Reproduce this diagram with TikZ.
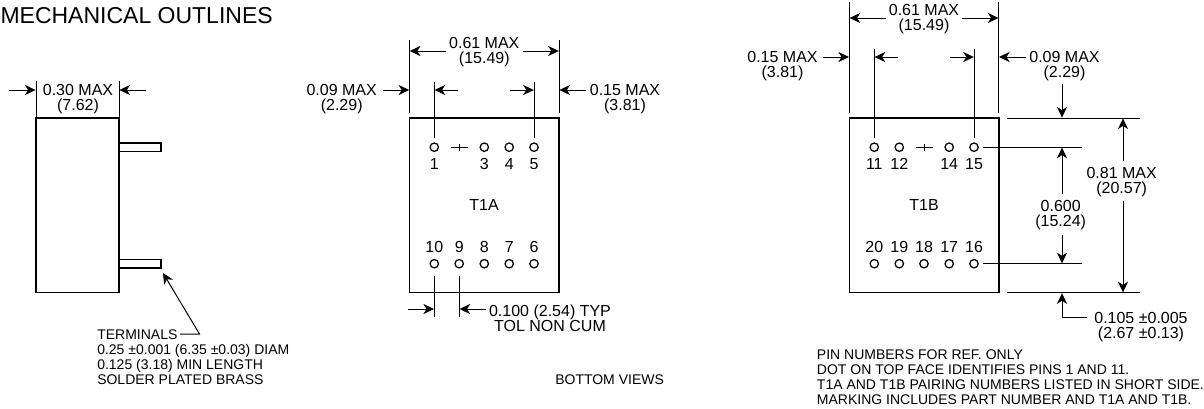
\documentclass[tikz,border=0pt]{standalone}
\usepackage{fontspec}
\setmainfont{Liberation Sans}
\usetikzlibrary{arrows.meta,positioning}

\begin{document}
\begin{tikzpicture}[
	x=0.75pt, y=-0.75pt,
	body/.style={rectangle, draw=black, line width=1.15pt, minimum width=112.1pt, minimum height=131pt, inner sep=0pt},
	terminal/.style={rectangle, draw=black, line width=1.15pt, minimum width=31.5pt, minimum height=6.4pt, inner sep=0pt},
	pin/.style={circle, draw=black, line width=0.95pt, minimum size=6.3pt, inner sep=0pt},
	pinnum/.style={inner sep=0pt, yshift=-0.7pt, font=\fontsize{12}{14}\selectfont},
	dimtext/.style={align=center, inner sep=0pt, yshift=-1.1pt, font=\fontsize{12}{11.25}\selectfont},
	notetext/.style={align=left, anchor=west, inner sep=0pt, yshift=-0.75pt, font=\fontsize{10.5}{11.25}\selectfont},
	ext/.style={line width=0.75pt},
	dim/.style={line width=0.75pt, -{Stealth[length=8pt, width=7.6pt, inset=2.4pt]}}
	]
	\useasboundingbox (0,0) rectangle (1204,408);
	\node[anchor=east, inner sep=0pt, font=\fontsize{17.25}{20}\selectfont] (title) at (273,16) {MECHANICAL OUTLINES};
	% bodies
	\node[body, minimum width=62.25pt] (side) at (77.5,205.3) {};
	\node[terminal] (termA) at (140,147.2) {};
	\node[terminal] (termB) at (140,263.8) {};
	\node[body] (bodyA) at (484.3,205.3) {};
	\node[body] (bodyB) at (924,205.3) {};
	\node[pinnum] (nameA) at (484,204) {T1A};
	\node[pinnum] (nameB) at (924,204) {T1B};
	% pins and their numbers
	\foreach \x/\n in {434.3/1, 484.3/3, 509.2/4, 534/5, 874.3/11, 899.3/12, 949.2/14, 974/15} {
		\node[pin] (p\n) at (\x,147.2) {};
		\node[pinnum] (n\n) at (\x,162.7) {\n};
	}
	\foreach \x/\n in {434.3/10, 459.2/9, 484.3/8, 509.2/7, 534/6, 874.3/20, 899.3/19, 924/18, 949.2/17, 974/16} {
		\node[pin] (p\n) at (\x,263.7) {};
		\node[pinnum] (n\n) at (\x,245.8) {\n};
	}
	\foreach \n/\x in {2/459.2, 13/924} {
		\coordinate (p\n) at (\x,147.2);
		\draw[ext] (p\n) +(-8.5,0) -- +(8.5,0) (p\n) +(0,-3.7) -- +(0,3.7);
	}
	% extension lines
	\foreach \n/\x/\ya/\yb in {sl/36/81/118, sr/119/81/118, al/409.5/40/113, ar/559/40/113, bl/849.3/2/113, br/998.7/2/113} {
		\coordinate (\n-a) at (\x,\ya);
		\coordinate (\n-b) at (\x,\yb);
		\draw[ext] (\n-a) -- (\n-b);
	}
	\foreach \n/\x/\y in {1/434.3/82, 5/534/82, 11/874.3/49, 15/974/49} {
		\coordinate (e\n) at (\x,\y);
		\draw[ext, shorten >=3.4pt] (e\n) -- (p\n);
	}
	\foreach \n/\x in {10/434.3, 9/459.2} {
		\coordinate (e\n) at (\x,316.7);
		\draw[ext, shorten <=5.9pt] (p\n) -- (e\n);
	}
	\foreach \n/\y in {15/147.2, 16/263.7} {
		\coordinate (h\n) at (1082,\y);
		\draw[ext, shorten <=3.4pt] (p\n) -- (h\n);
	}
	\foreach \n/\y in {top/118, bot/292.7} {
		\coordinate (\n-a) at (1007,\y);
		\coordinate (\n-b) at (1139.5,\y);
		\draw[ext] (\n-a) -- (\n-b);
	}
	% dimension arrows
	\foreach \n/\xa/\ya/\xb/\yb in {
		d1/9/90/35.6/90, d2/146/90/119.4/90,
		d3/446/51/409.8/51, d4/523/51/558.8/51,
		d5/383/90/409.2/90, d6/586/90/559.4/90,
		d7/458/90/434.6/90, d8/510/90/533.8/90,
		d9/408/309/434/309, d10/486/309/459.5/309,
		d11/886/18/849.6/18, d12/961.7/18/998.5/18,
		d13/823/57/849/57, d14/1026/57/999/57,
		d15/898/57/874.6/57, d16/950/57/973.8/57,
		d17/1062/83.7/1062/117.6,
		d18/1062/194/1062/147.6, d19/1062/234.7/1062/263.3,
		d20/1123/161/1123/118.4, d21/1123/201/1123/292.3} {
		\coordinate (\n-s) at (\xa,\ya);
		\coordinate (\n-e) at (\xb,\yb);
		\draw[dim] (\n-s) -- (\n-e);
	}
	\coordinate (lead-a) at (180,334);
	\coordinate (lead-b) at (199.5,334);
	\coordinate (lead-c) at (163,273);
	\draw[dim] (lead-a) -- (lead-b) -- (lead-c);
	\coordinate (tol-a) at (1087,317.5);
	\coordinate (tol-b) at (1062,317.5);
	\coordinate (tol-c) at (1062,293.2);
	\draw[dim] (tol-a) -- (tol-b) -- (tol-c);
	% labels
	\node[dimtext] (L1) at (78,97.5) {0.30 MAX\\(7.62)};
	\node[dimtext] (L2) at (484.3,51) {0.61 MAX\\(15.49)};
	\node[dimtext] (L3) at (341.7,97.5) {0.09 MAX\\(2.29)};
	\node[dimtext] (L4) at (625,97.5) {0.15 MAX\\(3.81)};
	\node[dimtext] (L5) at (550,316.5) {0.100 (2.54) TYP\\TOL NON CUM};
	\node[dimtext] (L6) at (924,18) {0.61 MAX\\(15.49)};
	\node[dimtext] (L7) at (782.5,64.5) {0.15 MAX\\(3.81)};
	\node[dimtext] (L8) at (1064.5,64.5) {0.09 MAX\\(2.29)};
	\node[dimtext] (L9) at (1060.7,213.5) {0.600\\(15.24)};
	\node[dimtext] (L10) at (1121.7,180.2) {0.81 MAX\\(20.57)};
	\node[dimtext] (L11) at (1141,325.5) {0.105 ±0.005\\(2.67 ±0.13)};
	\node[notetext] (N1) at (97,356.5) {TERMINALS\\0.25 ±0.001 (6.35 ±0.03) DIAM\\0.125 (3.18) MIN LENGTH\\SOLDER PLATED BRASS};
	\node[notetext] (N2) at (555,379) {BOTTOM VIEWS};
	\node[notetext] (N3) at (816.7,376.5) {PIN NUMBERS FOR REF. ONLY\\DOT ON TOP FACE IDENTIFIES PINS 1 AND 11.\\T1A AND T1B PAIRING NUMBERS LISTED IN SHORT SIDE.\\MARKING INCLUDES PART NUMBER AND T1A AND T1B.};
\end{tikzpicture}
\end{document}
